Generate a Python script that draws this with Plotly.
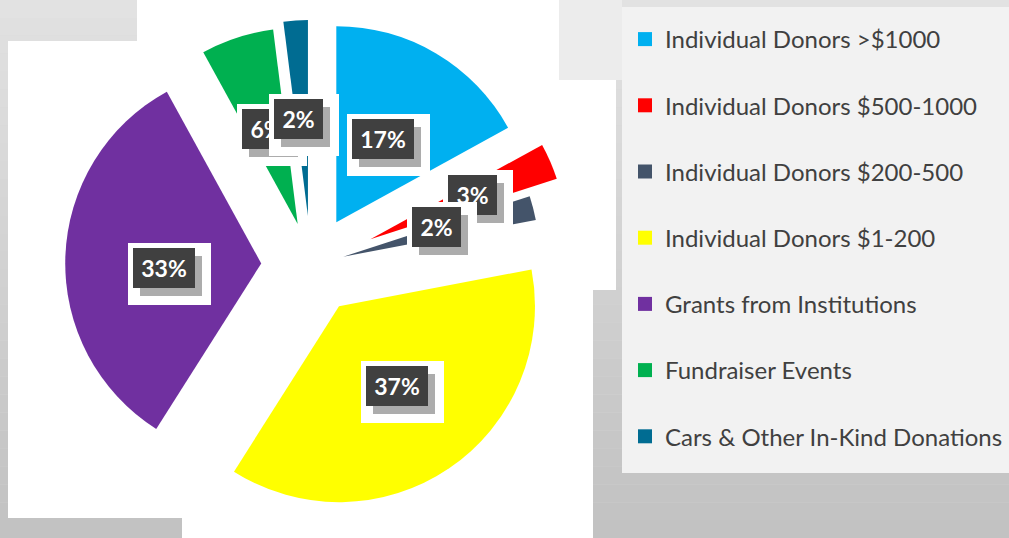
import plotly.graph_objects as go
import math

# ---- data ----
categories = [
    "Individual Donors >$1000",
    "Individual Donors $500-1000",
    "Individual Donors $200-500",
    "Individual Donors $1-200",
    "Grants from Institutions",
    "Fundraiser Events",
    "Cars & Other In-Kind Donations",
]
shares = [17, 3, 2, 37, 33, 6, 2]
colors = ["#00b0f0", "#ff0000", "#44546a", "#ffff00", "#7030a0", "#00b050", "#006c92"]
pulls = [0.254, 0.33, 0.17, 0.254, 0.254, 0.22, 0.25]
label_radius = [0.74, 0.90, 0.67, 0.755, 0.75, 0.73, 0.75]
label_angle_shift = [-0.7, 0, -2.4, -1.2, -3, 0, -1.4]   # degrees

W, H = 1009, 538
CX, CY = 311, 265          # pie centre (px)
R = 196                    # pie radius (px)
half = R * (1 + max(pulls))

fig = go.Figure()

# background gradient bands
nb = 30
for i in range(nb):
    g = int(226 - (226 - 194) * i / (nb - 1))
    fig.add_shape(type="rect", xref="paper", yref="paper",
                  x0=0, x1=1, y0=1 - (i + 1) / nb, y1=1 - i / nb,
                  fillcolor=f"rgb({g},{g},{g})", line_width=0, layer="below")

def px_rect(x0, y0, x1, y1, color):
    fig.add_shape(type="rect", xref="paper", yref="paper",
                  x0=x0 / W, x1=x1 / W, y0=1 - y1 / H, y1=1 - y0 / H,
                  fillcolor=color, line_width=0, layer="below")

px_rect(559, 0, 622, 80, "#ececec")
# white panels behind the pie
px_rect(8, 41, 330, 518, "white")
px_rect(137, 0, 559, 300, "white")
px_rect(182, 200, 593, 538, "white")
px_rect(440, 80, 616, 290, "white")
# legend panel
px_rect(622, 7, 1009, 473, "#f2f2f2")

fig.add_trace(go.Pie(
    labels=categories, values=shares, sort=False, direction="clockwise",
    rotation=0, pull=pulls, textinfo="none", hoverinfo="label+percent",
    marker=dict(colors=colors, line=dict(width=0)),
    domain=dict(x=[(CX - half) / W, (CX + half) / W],
                y=[1 - (CY + half) / H, 1 - (CY - half) / H]),
    showlegend=False,
))

# legend entries
for i, (c, col) in enumerate(zip(categories, colors)):
    fig.add_trace(go.Scatter(x=[None], y=[None], mode="markers", name=c,
                             legendgroup=f"g{i}",
                             marker=dict(symbol="square", size=14, color=col)))

def box(px, py, w, h, color, text=""):
    fig.add_annotation(x=px / W, y=1 - py / H, xref="paper", yref="paper",
                       xanchor="center", yanchor="middle", text=text,
                       showarrow=False, width=w, height=h, bgcolor=color,
                       borderpad=0, borderwidth=0,
                       font=dict(family="Lato", size=23, color="white"))

# data labels
total = sum(shares)
cum = 0
for s, rf, da in zip(shares, label_radius, label_angle_shift):
    mid = (cum + s / 2) / total * 2 * math.pi + math.radians(da)
    cum += s
    lx = CX + rf * R * math.sin(mid)
    ly = CY - rf * R * math.cos(mid)
    txt = f"{round(s / total * 100)}%"
    w = 23 + 13 * len(txt)
    box(lx + 5.5, ly + 6, w + 21, 62, "white")
    box(lx + 7, ly + 8, w, 40, "rgba(70,70,70,0.45)")
    box(lx, ly, w, 40, "#404040", f"<b>{txt}</b>")

fig.update_layout(
    width=W, height=H, margin=dict(l=0, r=0, t=0, b=0),
    paper_bgcolor="#d6d6d6", plot_bgcolor="rgba(0,0,0,0)",
    xaxis=dict(visible=False), yaxis=dict(visible=False),
    legend=dict(x=625 / W, y=1 - 17 / H, xanchor="left", yanchor="top",
                bgcolor="rgba(0,0,0,0)", tracegroupgap=32,
                font=dict(family="Lato", size=24, color="#404040")),
)

fig.write_html("out.html")
